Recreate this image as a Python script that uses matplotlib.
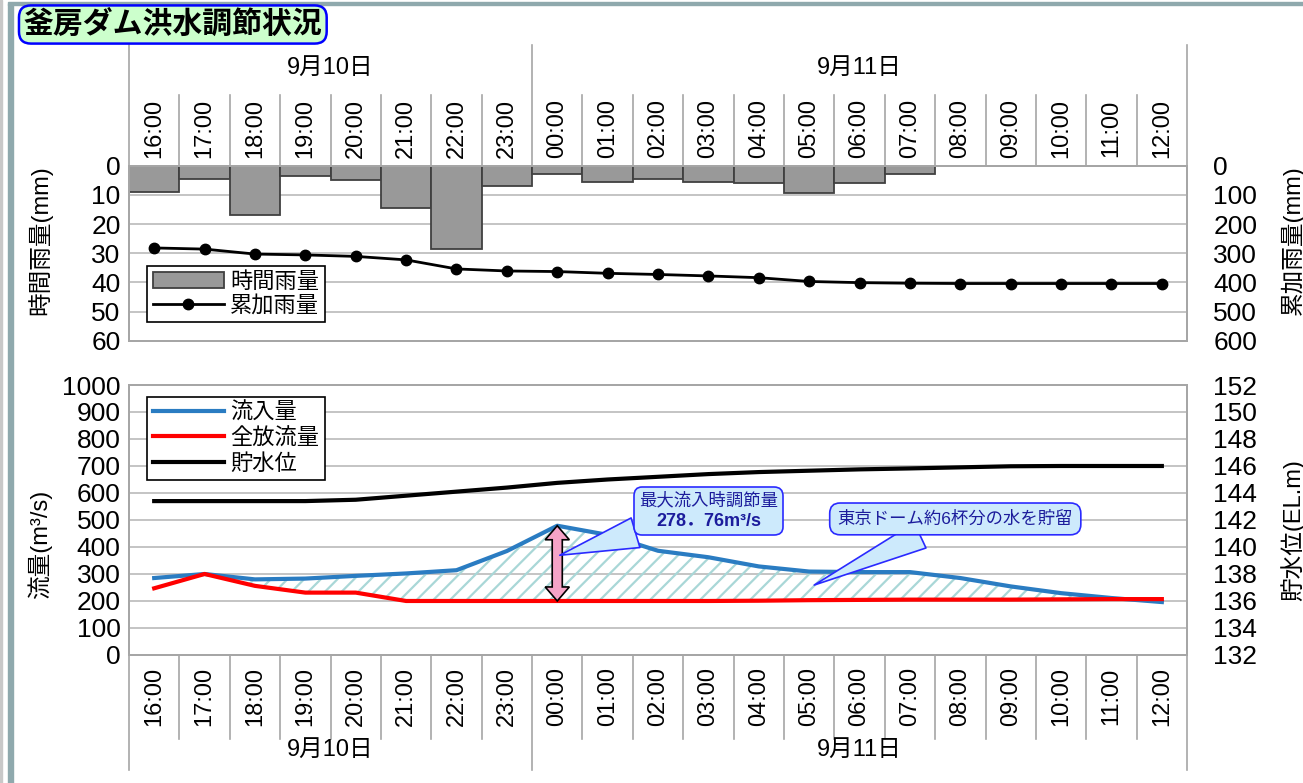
import numpy as np
import matplotlib.pyplot as plt
import matplotlib.transforms as mtrans
from matplotlib.patches import Polygon, Rectangle
from matplotlib.lines import Line2D
from matplotlib.offsetbox import TextArea, VPacker, AnnotationBbox

plt.rcParams['font.family'] = ['Liberation Sans', 'Noto Sans CJK JP', 'DejaVu Sans']
plt.rcParams['hatch.linewidth'] = 1.6

# time axis
hours = ['16:00', '17:00', '18:00', '19:00', '20:00', '21:00', '22:00', '23:00',
         '00:00', '01:00', '02:00', '03:00', '04:00', '05:00', '06:00', '07:00',
         '08:00', '09:00', '10:00', '11:00', '12:00']
days = ['9月10日', '9月11日']
day_start = [0, 8]

# rainfall (mm)
rain_hourly = [9, 4.5, 17, 3.5, 5, 14.5, 28.5, 7, 3, 5.5, 4.5, 5.5, 6, 9.5, 6, 3,
               np.nan, 0, 0, 0, np.nan]
rain_total = [282, 286, 303, 306, 311, 323, 354, 361, 363, 369, 373, 378, 384, 397,
              401, 403, 404, 404, 404, 404, 404]

# flows (m3/s) and reservoir level (EL.m)
inflow = [285, 300, 280, 283, 293, 302, 314, 385, 478.76, 445, 386, 362, 328, 309,
          307, 307, 285, 254, 229, 211, 196]
outflow = [247, 300, 256, 231, 231, 200, 200, 200, 200, 200, 200, 200, 201, 203,
           204, 205, 205, 205, 206, 207, 207]
level = [143.4, 143.4, 143.4, 143.4, 143.5, 143.8, 144.1, 144.4, 144.75, 145.0, 145.2,
         145.4, 145.55, 145.65, 145.75, 145.82, 145.9, 145.98, 146.0, 146.0, 146.0]
peak_idx = 8
peak_cut = 278.76

x = np.arange(len(hours))
grid_c = '#bfbfbf'
spine_c = '#a6a6a6'
blue = '#2a7cc2'
red = '#ff0000'
tick_fs = 19

fig = plt.figure(figsize=(13.03, 7.83), dpi=100)

# outer frame
fig.patches.append(Rectangle((0.006, 0), 0.004, 0.995, transform=fig.transFigure,
                             color='#8fa9ad', zorder=0))
fig.patches.append(Rectangle((0.006, 0.994), 0.994, 0.004, transform=fig.transFigure,
                             color='#8fa9ad', zorder=0))
fig.patches.append(Rectangle((0.0, 0), 0.0012, 1, transform=fig.transFigure,
                             color='#c8c8c8', zorder=0))

fig.text(0.018, 0.9687, '釜房ダム洪水調節状況', fontsize=21.5, fontweight='bold',
         ha='left', va='center',
         bbox=dict(boxstyle='round,pad=0.15,rounding_size=0.4', fc='#ccffcc',
                   ec='#0000ff', lw=1.8))

ax1 = fig.add_axes([0.099, 0.5649, 0.812, 0.2235])
ax2 = fig.add_axes([0.099, 0.1635, 0.812, 0.3448])


def style(ax, pad):
    ax.set_xlim(-0.5, len(hours) - 0.5)
    ax.set_xticks([])
    ax.tick_params(axis='y', length=0, labelsize=tick_fs, pad=pad)
    for s in ax.spines.values():
        s.set_color(spine_c)
        s.set_linewidth(1.3)


def header(ax, y0, y_cell, y_day, y_hour_txt, y_day_txt):
    tr = mtrans.blended_transform_factory(ax.transData, ax.transAxes)
    for i in range(len(hours) + 1):
        top = y_day if (i in day_start or i == len(hours)) else y_cell
        ax.plot([i - 0.5, i - 0.5], [y0, top], transform=tr, color=spine_c,
                lw=1.2, clip_on=False)
    for i, h in enumerate(hours):
        ax.text(i, y_hour_txt, h, transform=tr, rotation=90, ha='center',
                va='center', fontsize=17, clip_on=False)
    ends = day_start[1:] + [len(hours)]
    for d, s, e in zip(days, day_start, ends):
        ax.text((s + e - 1) / 2, y_day_txt, d, transform=tr, ha='center',
                va='center', fontsize=17, clip_on=False)


# ---- rainfall chart ----
style(ax1, 6)
ax1.set_ylim(60, 0)
ax1.set_yticks(range(0, 61, 10))
ax1.grid(axis='y', color=grid_c, lw=1.3)
ax1.set_axisbelow(True)
rh = np.array(rain_hourly, dtype=float)
ok = ~np.isnan(rh)
ax1.bar(x[ok], rh[ok], width=1.0, color='#999999', edgecolor='#404040', lw=1.3,
        zorder=2)
ax1.set_ylabel('時間雨量(mm)', fontsize=17)
ax1.yaxis.set_label_coords(-0.073, 0.575)

ax1r = ax1.twinx()
style(ax1r, 19)
ax1r.set_ylim(600, 0)
ax1r.set_yticks(range(0, 601, 100))
ax1r.plot(x, rain_total, color='black', lw=2, marker='o', ms=7.5)
ax1r.set_ylabel('累加雨量(mm)', fontsize=17)
ax1r.yaxis.set_label_coords(1.088, 0.575)

header(ax1, 1.0, 1.404, 1.69, 1.215, 1.558)

h_bar = Rectangle((0, 0), 1, 1, fc='#999999', ec='#404040', lw=1.3)
h_cum = Line2D([], [], color='black', lw=2, marker='o', ms=7.5)
leg = ax1r.legend([h_bar, h_cum], ['時間雨量', '累加雨量'], loc='upper left',
                  bbox_to_anchor=(0.017, 0.427), fontsize=16, frameon=True,
                  fancybox=False, edgecolor='black', framealpha=1,
                  borderpad=0.25, labelspacing=0.15, handlelength=3.2,
                  handletextpad=0.3, borderaxespad=0)
leg.get_frame().set_linewidth(1.2)

# ---- flow chart ----
style(ax2, 6)
ax2.set_ylim(0, 1000)
ax2.set_yticks(range(0, 1001, 100))
ax2.grid(axis='y', color=grid_c, lw=1.3)
ax2.set_axisbelow(True)
inf = np.array(inflow)
outf = np.array(outflow)
ax2.fill_between(x, outf, inf, where=(x >= 1) & (inf >= outf), interpolate=True,
                 facecolor='none', edgecolor='#a9d7d7', hatch='//', lw=0, zorder=1)
l_in, = ax2.plot(x, inf, color=blue, lw=3, zorder=3)
l_out, = ax2.plot(x, outf, color=red, lw=3, zorder=4)
ax2.set_ylabel('流量(m³/s)', fontsize=17)
ax2.yaxis.set_label_coords(-0.073, 0.41)

# double-headed arrow for peak regulation
lo = outflow[peak_idx]
hi = lo + peak_cut
bw, hw, hl = 0.1, 0.24, 52
xc = x[peak_idx]
arrow = Polygon([(xc, lo), (xc - hw, lo + hl), (xc - bw, lo + hl), (xc - bw, hi - hl),
                 (xc - hw, hi - hl), (xc, hi), (xc + hw, hi - hl), (xc + bw, hi - hl),
                 (xc + bw, lo + hl), (xc + hw, lo + hl)], closed=True,
                fc='#f5a3c7', ec='black', lw=1.2, zorder=6)
ax2.add_patch(arrow)

ax2r = ax2.twinx()
style(ax2r, 19)
ax2r.set_ylim(132, 152)
ax2r.set_yticks(range(132, 153, 2))
l_lv, = ax2r.plot(x, level, color='black', lw=3)
ax2r.set_ylabel('貯水位(EL.m)', fontsize=17)
ax2r.yaxis.set_label_coords(1.088, 0.463)

header(ax2, 0.0, -0.31, -0.426, -0.153, -0.352)

leg2 = ax2r.legend([l_in, l_out, l_lv], ['流入量', '全放流量', '貯水位'],
                   loc='upper left', bbox_to_anchor=(0.017, 0.956), fontsize=16,
                   frameon=True, fancybox=False, edgecolor='black', framealpha=1,
                   borderpad=0.25, labelspacing=0.2, handlelength=3.2,
                   handletextpad=0.3, borderaxespad=0)
leg2.get_frame().set_linewidth(1.2)

# callouts
box_fc, box_ec, txt_c = '#cdeafc', '#2a2aff', '#1c1c9c'
wedge = dict(arrowstyle='wedge,tail_width=1.6,shrink_factor=0.5', fc=box_fc,
             ec=box_ec, lw=1.2, shrinkA=0, shrinkB=0)

lines = VPacker(children=[
    TextArea('最大流入時調節量', textprops=dict(fontsize=12.5, color=txt_c)),
    TextArea('278．76m³/s', textprops=dict(fontsize=13, fontweight='bold',
                                            color=txt_c))],
    align='center', pad=0, sep=3)
ab = AnnotationBbox(lines, (xc + 0.05, (lo + hi) / 2 + 30), xycoords=ax2.transData,
                    xybox=(11.0, 533), boxcoords=ax2.transData, pad=0.5,
                    bboxprops=dict(boxstyle='round,pad=0.35,rounding_size=0.6',
                                   fc=box_fc, ec=box_ec, lw=1.2),
                    arrowprops=wedge, zorder=8)
ax2r.add_artist(ab)

ax2r.annotate('東京ドーム約6杯分の水を貯留', xy=(13.1, 259), xycoords=ax2.transData,
              xytext=(15.9, 504), textcoords=ax2.transData, ha='center', va='center',
              fontsize=12.5, color=txt_c,
              bbox=dict(boxstyle='round,pad=0.45,rounding_size=0.6', fc=box_fc,
                        ec=box_ec, lw=1.2),
              arrowprops=wedge, zorder=8)

fig.savefig('out.png', dpi=100)
